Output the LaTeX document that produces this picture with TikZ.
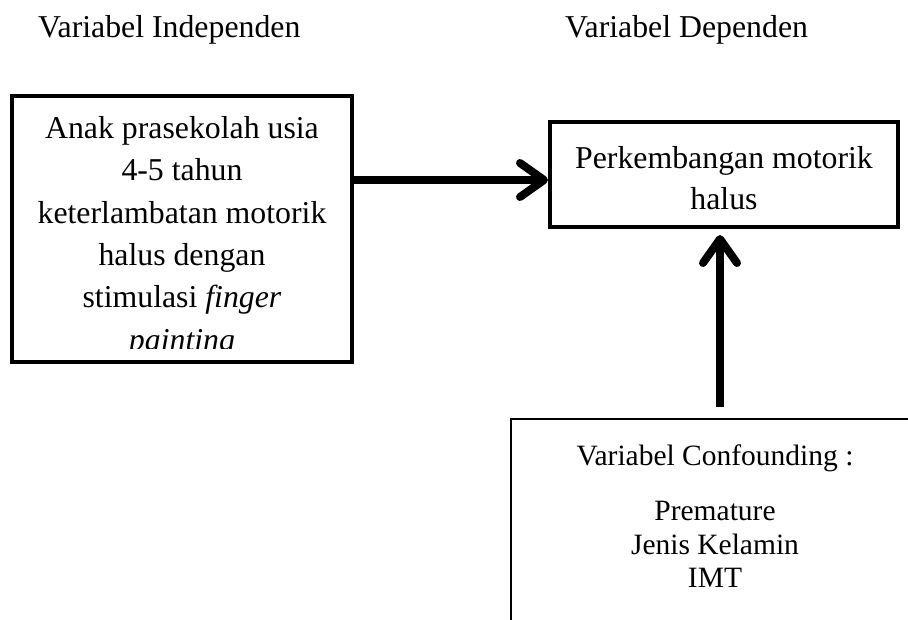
\documentclass[tikz,border=0pt]{standalone}
\usepackage{fontspec}
\setmainfont{Liberation Serif}
\usetikzlibrary{arrows.meta}

\tikzset{
  box/.style={draw, line width=4pt, inner sep=0pt},
  thinbox/.style={draw, line width=2.5pt, inner sep=0pt},
  arr/.style={line width=8pt, -{Straight Barb[round,length=24pt,width=34pt]}},
  txt/.style={font=\fontsize{31.8}{41}\selectfont, align=center, inner sep=0pt},
  smalltxt/.style={font=\fontsize{29.5}{33.5}\selectfont, align=center, inner sep=0pt},
}

\begin{document}
\begin{tikzpicture}[x=1pt,y=-1pt]
\clip (0,0) rectangle (908,619);

% headings
\node[txt, anchor=base west] (hind) at (38,37) {Variabel Independen};
\node[txt, anchor=base west] (hdep) at (565,37) {Variabel Dependen};

% independent variable
\node[box, minimum width=340pt, minimum height=266pt] (lbox) at (182,229) {};
\begin{scope}
  \clip (14,98) rectangle (350,348);
  \node[txt, font=\fontsize{31.8}{42.4}\selectfont, anchor=north] (ltext) at (182,116)
    {Anak prasekolah usia\\4-5 tahun\\keterlambatan motorik\\halus dengan\\stimulasi \textit{finger}\\\textit{painting}};
\end{scope}

% dependent variable
\node[box, minimum width=348pt, minimum height=105pt] (tbox) at (724,174.5) {};
\node[txt, anchor=north] (ttext) at (724,146) {Perkembangan motorik\\halus};

% confounding
\node[thinbox, minimum width=408pt, minimum height=222pt] (cbox) at (715,530) {};
\node[smalltxt, anchor=north] (ctext) at (715,445)
  {Variabel Confounding :\\[21.5pt]Premature\\Jenis Kelamin\\IMT};

% arrows
\draw[arr] ([yshift=-5.5pt]lbox.east |- tbox.west) -- ([yshift=-5.5pt]tbox.west);
\draw[arr] ([xshift=5pt,yshift=11pt]cbox.north) -- ([xshift=-4pt,yshift=-6pt]tbox.south);
\end{tikzpicture}
\end{document}
